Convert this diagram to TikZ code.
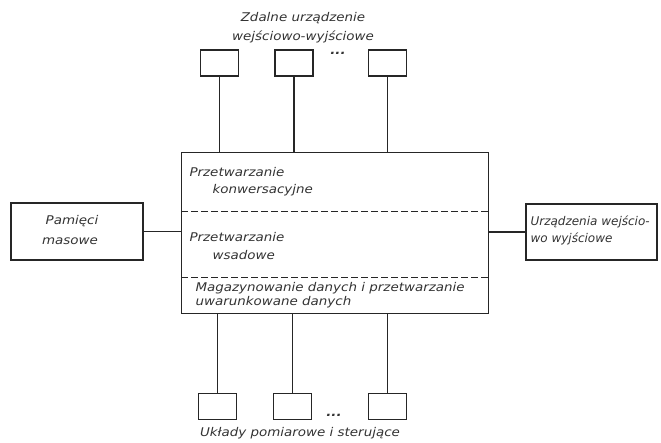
\documentclass[tikz,border=0pt]{standalone}
\usepackage{fontspec}
\setmainfont{DejaVu Sans}
\newfontfamily\widefont[FakeStretch=1.12]{DejaVu Sans}
\begin{document}
\begin{tikzpicture}[x=1pt,y=-1pt,
  line width=1.1pt, draw=black!85,
  lbl/.style={font=\widefont\itshape\fontsize{12}{14}\selectfont, text=black!80, inner sep=0pt},
  sbox/.style={draw, line width=1.2pt, minimum width=38pt, minimum height=26pt, inner sep=0pt},
  sepline/.style={dash pattern=on 7pt off 3pt, line width=1pt}]
\useasboundingbox (0,0) rectangle (661,442);
% main box
\node[draw, line width=1.2pt, minimum width=307pt, minimum height=161pt, inner sep=0pt, anchor=north west] (main) at (181,152) {};
\coordinate (d1l) at (181,211); \coordinate (d1r) at (488,211);
\coordinate (d2l) at (181,277); \coordinate (d2r) at (488,277);
\draw[sepline] (d1l) -- (d1r);
\draw[sepline] (d2l) -- (d2r);
\node[lbl, anchor=west] (t1) at (189,172) {Przetwarzanie};
\node[lbl, anchor=west] (t2) at (212,190) {konwersacyjne};
\node[lbl, anchor=west] (t3) at (189,237) {Przetwarzanie};
\node[lbl, anchor=west] (t4) at (212,255) {wsadowe};
\node[lbl, anchor=west] (t5) at (195,288) {Magazynowanie danych i przetwarzanie};
\node[lbl, anchor=west] (t6) at (195,302) {uwarunkowane danych};
% left box
\node[draw, line width=1.2pt, minimum width=132pt, minimum height=57pt, inner sep=0pt] (left) at (77,231.5) {};
\node[lbl] (l1) at (72,221) {Pamięci};
\node[lbl] (l2) at (70,241) {masowe};
% right box
\node[draw, line width=1.2pt, minimum width=131pt, minimum height=56pt, inner sep=0pt] (right) at (591.5,232) {};
\node[lbl, font=\itshape\fontsize{12}{14}\selectfont, anchor=west] (r1) at (530,222) {Urządzenia wejścio-};
\node[lbl, font=\itshape\fontsize{12}{14}\selectfont, anchor=west] (r2) at (530,239) {wo wyjściowe};
\draw (left.east) -- (main.west |- left.east);
\draw (right.west) -- (main.east |- right.west);
% top boxes
\node[sbox] (u1) at (219.5,63) {};
\node[sbox] (u2) at (294,63) {};
\node[sbox] (u3) at (387.5,63) {};
\node[lbl] (udots) at (338,53) {\textbf{...}};
\draw (u1.south) -- (u1.south |- main.north);
\draw (u2.south) -- (u2.south |- main.north);
\draw (u3.south) -- (u3.south |- main.north);
\node[lbl] (utxt1) at (303,18) {Zdalne urządzenie};
\node[lbl] (utxt2) at (303,37) {wejściowo-wyjściowe};
% bottom boxes
\node[sbox] (b1) at (217.5,406.5) {};
\node[sbox] (b2) at (292.5,406.5) {};
\node[sbox] (b3) at (387.5,406.5) {};
\node[lbl] (bdots) at (334,415) {\textbf{...}};
\draw (b1.north) -- (b1.north |- main.south);
\draw (b2.north) -- (b2.north |- main.south);
\draw (b3.north) -- (b3.north |- main.south);
\node[lbl] (btxt) at (300,433) {Układy pomiarowe i sterujące};
\end{tikzpicture}
\end{document}
